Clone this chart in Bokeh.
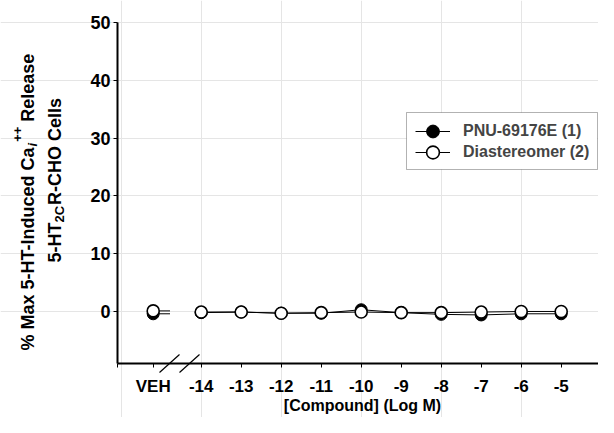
import math
from bokeh.plotting import figure
from bokeh.models import (FixedTicker, Label, Legend, LegendItem, Arrow, Range1d,
                          CustomJSTickFormatter, LinearAxis, BoxAnnotation)
from bokeh.embed import file_html
from bokeh.resources import INLINE

# ---------------- data ----------------
log_conc = [-14, -13, -12, -11, -10, -9, -8, -7, -6, -5]
conc_labels = ["-14", "-13", "-12", "-11", "-10", "-9", "-8", "-7", "-6", "-5"]
veh_label = "VEH"
pnu_veh = -0.4
pnu_vals = [-0.2, -0.1, -0.3, -0.3, 0.3, -0.2, -0.5, -0.6, -0.4, -0.4]
dia_veh = 0.1
dia_vals = [-0.1, -0.1, -0.3, -0.2, -0.1, -0.2, -0.2, -0.1, 0.0, 0.0]
y_ticks = [0, 10, 20, 30, 40, 50]
series_names = ["PNU-69176E (1)", "Diastereomer (2)"]
x_title = "[Compound] (Log M)"

# ---------------- layout ----------------
W, H = 598, 417
FONT = "Liberation Sans"
XPX = 40.0            # pixels per log unit
X_ANCHOR_PX = 200.7   # pixel position of -14
YPX = 341.0 / 59.0    # pixels per % unit
Y_ANCHOR_PX = 363.0   # pixel position of y = -9
Y_MIN, Y_MAX = -9.0, 50.0
VEH_X = -15.2
AXIS_X = -16.09       # where the y axis stands
STUB_END = -14.78


def px2x(cx):
    return -14 + (cx - X_ANCHOR_PX) / XPX


def px2y(cy):
    return Y_MIN + (Y_ANCHOR_PX - cy) / YPX


p = figure(width=W, height=H, output_backend="svg", toolbar_location=None,
           x_range=Range1d(px2x(0), px2x(W)), y_range=Range1d(px2y(H), px2y(0)),
           x_axis_location=None, y_axis_location=None,
           min_border_left=0, min_border_right=0, min_border_top=0, min_border_bottom=0)
p.outline_line_color = None
p.background_fill_color = "white"
p.border_fill_color = "white"

# axes (the library's own axes, fixed at the chart's origin)
tick_pos = [AXIS_X, VEH_X] + log_conc
tick_lab = ["", veh_label] + conc_labels
xaxis = LinearAxis(fixed_location=Y_MIN, bounds=(AXIS_X, px2x(W + 10)),
                   ticker=FixedTicker(ticks=tick_pos),
                   formatter=CustomJSTickFormatter(args=dict(pos=tick_pos, labs=tick_lab), code="""
for (let i = 0; i < pos.length; i++) { if (Math.abs(tick - pos[i]) < 1e-6) return labs[i]; }
return "";
"""))
yaxis = LinearAxis(fixed_location=AXIS_X, bounds=(Y_MIN, Y_MAX),
                   ticker=FixedTicker(ticks=y_ticks))
for ax in (xaxis, yaxis):
    ax.axis_line_width = 2
    ax.axis_line_color = "black"
    ax.major_tick_line_color = "black"
    ax.major_tick_line_width = 1
    ax.major_tick_out = 4
    ax.major_tick_in = 0
    ax.minor_tick_line_color = None
    ax.major_label_text_font = FONT
    ax.major_label_text_font_style = "bold"
    ax.major_label_text_color = "black"
xaxis.major_label_text_font_size = "17px"
yaxis.major_label_text_font_size = "18px"
xaxis.major_label_standoff = 9
yaxis.major_label_standoff = 3
p.add_layout(xaxis, "below")
p.add_layout(yaxis, "left")

# data lines
l1 = p.line(log_conc, pnu_vals, line_color="black", line_width=1)
p.line([VEH_X, STUB_END], [pnu_veh, pnu_veh], line_color="black", line_width=1)
l2 = p.line(log_conc, dia_vals, line_color="black", line_width=1)
p.line([VEH_X, STUB_END], [dia_veh, dia_veh], line_color="black", line_width=1)
s1 = p.scatter([VEH_X] + log_conc, [pnu_veh] + pnu_vals, marker="circle", size=12,
               fill_color="black", line_color="black", line_width=1)
s2 = p.scatter([VEH_X] + log_conc, [dia_veh] + dia_vals, marker="circle", size=12,
               fill_color="white", line_color="black", line_width=1.6)

# axis break
dx, dy = 10 / XPX, 9 / YPX
for cx in (px2x(169), px2x(189)):
    p.add_layout(Arrow(start=None, end=None, x_start=cx - dx, y_start=Y_MIN - dy,
                       x_end=cx + dx, y_end=Y_MIN + dy, line_color="black", line_width=1.2))

# legend: one frame, two stacked single-entry legends
LEG_L, LEG_R, LEG_T, LEG_B = 406, 597, 112, 169
p.add_layout(BoxAnnotation(left=px2x(LEG_L), right=px2x(LEG_R), top=px2y(LEG_T),
                           bottom=px2y(LEG_B), fill_color="white", fill_alpha=1,
                           line_color="black", line_width=1, level="annotation"))
rows = [(series_names[0], [l1, s1], 131), (series_names[1], [l2, s2], 152)]
for name, rends, cy in rows:
    p.add_layout(Legend(items=[LegendItem(label=name, renderers=rends)],
                        location=(LEG_L + 9, H - (cy + 16)), margin=0, padding=0,
                        spacing=0, glyph_width=35, glyph_height=32, label_standoff=13,
                        label_text_font=FONT, label_text_font_size="16px",
                        label_text_font_style="bold", label_text_baseline="middle",
                        border_line_color=None, background_fill_alpha=0))

# x title
p.add_layout(Label(x=px2x(362), y=px2y(405), text=x_title, text_align="center",
                   text_baseline="middle", text_font=FONT, text_font_size="16px",
                   text_font_style="bold", text_color="black"))

# y title (rotated, with sub/superscripts)
AW = {' ': 278, '%': 889, 'M': 833, 'a': 556, 'x': 556, '5': 556, '-': 333, 'H': 722,
      'T': 611, 'I': 278, 'n': 611, 'd': 611, 'u': 611, 'c': 556, 'e': 556, 'C': 722,
      'R': 722, 'l': 278, 's': 556, 'O': 778, '2': 556, 'i': 278, '+': 584}


def tw(s, size):
    return sum(AW[c] for c in s) * size / 1000.0


def y_title(pieces, cx, cy):
    for text, size, off, style, gap in pieces:
        p.add_layout(Label(x=px2x(cx + off), y=px2y(cy), text=text, angle=math.pi / 2,
                           text_align="left", text_baseline="middle", text_font=FONT,
                           text_font_size=f"{size}px", text_font_style=style,
                           text_color="black"))
        cy -= tw(text, size) + gap


y_title([("% Max 5-HT-Induced Ca", 18, 0, "bold", 0), ("i", 13, 5, "bold italic", 1),
         ("++", 13, -10, "bold", 5), ("Release", 18, 0, "bold", 0)], 27, 350)
y_title([("5-HT", 18, 0, "bold", 0), ("2C", 13, 5, "bold", 1),
         ("R-CHO Cells", 18, 0, "bold", 0)], 54, 262)

open("out.html", "w").write(file_html(p, INLINE))
